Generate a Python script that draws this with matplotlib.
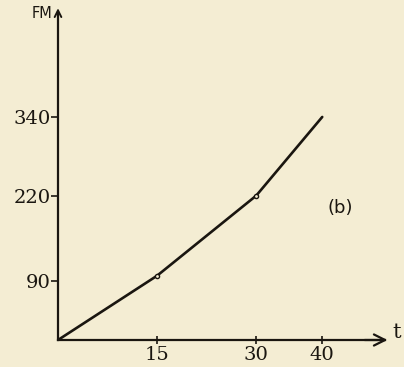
import matplotlib.pyplot as plt

t = [0, 15, 30, 40]
fm = [0, 98, 220, 340]
xticks = [15, 30, 40]
yticks = [90, 220, 340]

paper = "#f4edd3"
ink = "#1a1610"

fig = plt.figure(figsize=(4.04, 3.67), dpi=100, facecolor=paper)
ax = fig.add_axes([58 / 404, 27 / 367, 327 / 404, 328 / 367])
ax.set_facecolor(paper)
ax.set_xlim(0, 49.5)
ax.set_ylim(0, 500)

ax.plot(t, fm, color=ink, lw=1.9, solid_capstyle="round")
ax.plot(t[1:3], fm[1:3], "o", color=ink, ms=3, mfc=paper, mew=1)

for s in ["top", "right"]:
    ax.spines[s].set_visible(False)
for s in ["left", "bottom"]:
    ax.spines[s].set_color(ink)
    ax.spines[s].set_linewidth(1.6)

# arrow heads on axes
ax.annotate("", xy=(50.3, 0), xytext=(46, 0), annotation_clip=False,
            arrowprops=dict(arrowstyle="->", color=ink, lw=1.6, mutation_scale=20))
ax.annotate("", xy=(0, 510), xytext=(0, 470), annotation_clip=False,
            arrowprops=dict(arrowstyle="->", color=ink, lw=1.4, mutation_scale=12))

ax.set_xticks(xticks)
ax.set_yticks(yticks)
ax.tick_params(axis="x", direction="inout", length=6, width=1.2, colors=ink, pad=1)
ax.tick_params(axis="y", direction="out", length=5, width=1.2, colors=ink, pad=0)
for lab in ax.get_xticklabels() + ax.get_yticklabels():
    lab.set_fontfamily("DejaVu Serif")
    lab.set_fontsize(14)

ax.text(51.2, 11, "t", fontsize=15, color=ink, family="DejaVu Serif",
        ha="center", va="center", clip_on=False)
ax.text(-0.8, 497, "FM", fontsize=10.5, color=ink, ha="right", va="center",
        clip_on=False)
ax.text(42.7, 201, "(b)", fontsize=13, color=ink, ha="center", va="center")

fig.savefig("out.png", dpi=100, facecolor=paper)
